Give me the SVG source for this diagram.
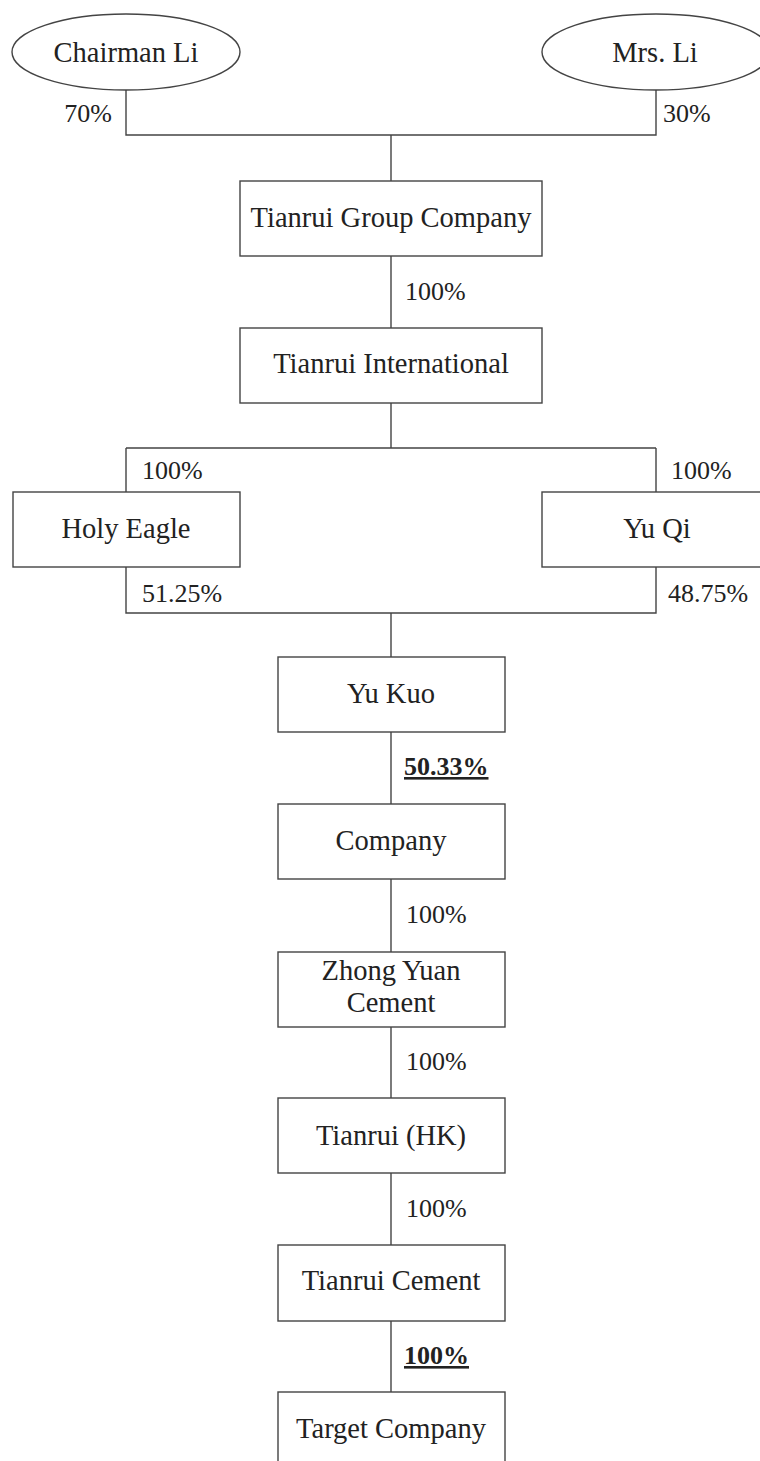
<svg xmlns="http://www.w3.org/2000/svg" width="760" height="1461" viewBox="0 0 760 1461">
<style>
.n{fill:#fff;stroke:#444;stroke-width:1.4}
.c{fill:none;stroke:#444;stroke-width:1.4}
.t{font-family:"Liberation Serif","Times New Roman",serif;font-size:28.5px;fill:#222;text-anchor:middle}
.p{font-family:"Liberation Serif","Times New Roman",serif;font-size:26px;fill:#222}
.b{font-weight:bold;text-decoration:underline}
</style>
<rect width="760" height="1461" fill="#fff"/>
<g id="connectors">
<path class="c" d="M126 90V135H656V90M391 135V181"/>
<path class="c" d="M391 256V328"/>
<path class="c" d="M391 403V448M126 448H656M126 448V492M656 448V492"/>
<path class="c" d="M126 567V613H656V567M391 613V657"/>
<path class="c" d="M391 732V804"/>
<path class="c" d="M391 879V952"/>
<path class="c" d="M391 1027V1098"/>
<path class="c" d="M391 1173V1245"/>
<path class="c" d="M391 1321V1392"/>
</g>
<g id="labels">
<text class="p" x="112" y="122" text-anchor="end">70%</text>
<text class="p" x="663" y="122">30%</text>
<text class="p" x="405" y="300">100%</text>
<text class="p" x="142" y="479">100%</text>
<text class="p" x="671" y="479">100%</text>
<text class="p" x="142" y="602">51.25%</text>
<text class="p" x="668" y="602">48.75%</text>
<text class="p b" x="404" y="775">50.33%</text>
<text class="p" x="406" y="923">100%</text>
<text class="p" x="406" y="1070">100%</text>
<text class="p" x="406" y="1217">100%</text>
<text class="p b" x="404" y="1364">100%</text>
</g>
<g id="chairman-li"><ellipse class="n" cx="126" cy="52" rx="114" ry="38"/><text class="t" x="126" y="62">Chairman Li</text></g>
<g id="mrs-li"><ellipse class="n" cx="656" cy="52" rx="114" ry="38"/><text class="t" x="655" y="62">Mrs. Li</text></g>
<g id="tianrui-group"><rect class="n" x="240" y="181" width="302" height="75"/><text class="t" x="391" y="227">Tianrui Group Company</text></g>
<g id="tianrui-intl"><rect class="n" x="240" y="328" width="302" height="75"/><text class="t" x="391" y="373">Tianrui International</text></g>
<g id="holy-eagle"><rect class="n" x="13" y="492" width="227" height="75"/><text class="t" x="126" y="538">Holy Eagle</text></g>
<g id="yu-qi"><rect class="n" x="542" y="492" width="227" height="75"/><text class="t" x="657" y="538">Yu Qi</text></g>
<g id="yu-kuo"><rect class="n" x="278" y="657" width="227" height="75"/><text class="t" x="391" y="703">Yu Kuo</text></g>
<g id="company"><rect class="n" x="278" y="804" width="227" height="75"/><text class="t" x="391" y="850">Company</text></g>
<g id="zhong-yuan"><rect class="n" x="278" y="952" width="227" height="75"/><text class="t" x="391" y="980">Zhong Yuan</text><text class="t" x="391" y="1012">Cement</text></g>
<g id="tianrui-hk"><rect class="n" x="278" y="1098" width="227" height="75"/><text class="t" x="391" y="1145">Tianrui (HK)</text></g>
<g id="tianrui-cement"><rect class="n" x="278" y="1245" width="227" height="76"/><text class="t" x="391" y="1290">Tianrui Cement</text></g>
<g id="target-company"><rect class="n" x="278" y="1392" width="227" height="75"/><text class="t" x="391" y="1438">Target Company</text></g>
</svg>
